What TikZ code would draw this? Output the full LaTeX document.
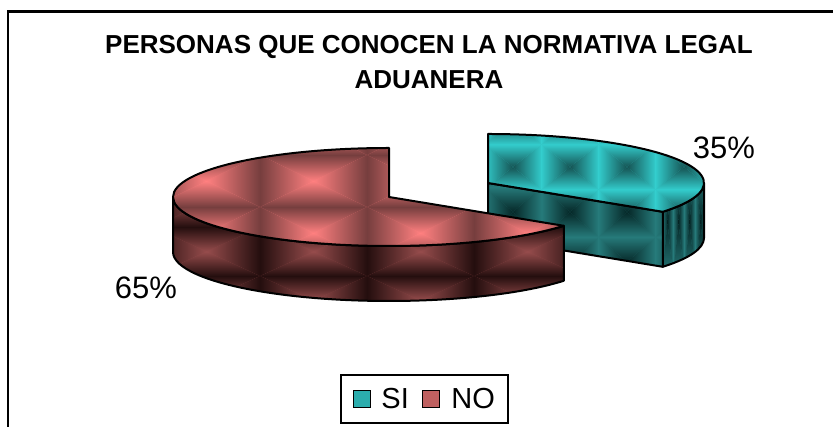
\documentclass[tikz,border=0pt]{standalone}
\usepackage{fontspec}
\setmainfont{Liberation Sans}
\usetikzlibrary{calc,positioning}

\definecolor{noLight}{RGB}{255,128,128}
\definecolor{noDark}{RGB}{118,62,62}
\definecolor{noSideLight}{RGB}{150,76,76}
\definecolor{noSideDark}{RGB}{36,14,14}
\definecolor{siLight}{RGB}{51,204,204}
\definecolor{siDark}{RGB}{22,84,84}
\definecolor{siSideLight}{RGB}{38,122,122}
\definecolor{siSideDark}{RGB}{6,40,40}

% one bevelled tile: rim in #5, centre in #6
\newcommand{\pillow}[6]{%
  \coordinate (pc) at ({#1+#3/2},{#2+#4/2});
  \shade[left color=#5,right color=#6] (#1,#2) -- ++(0,#4) -- (pc) -- cycle;
  \shade[left color=#6,right color=#5] ({#1+#3},#2) -- ++(0,#4) -- (pc) -- cycle;
  \shade[top color=#5,bottom color=#6] (#1,{#2+#4}) -- ++(#3,0) -- (pc) -- cycle;
  \shade[top color=#6,bottom color=#5] (#1,#2) -- ++(#3,0) -- (pc) -- cycle;
}
% grid of tiles: x0, y0, w, h, cols, rows, rim, centre
\newcommand{\tiletexture}[8]{%
  \foreach \i in {1,...,#5}{%
    \foreach \j in {1,...,#6}{%
      \pgfmathsetmacro{\tilex}{#1+(\i-1)*#3}%
      \pgfmathsetmacro{\tiley}{#2+(\j-1)*#4}%
      \pillow{\tilex}{\tiley}{#3}{#4}{#7}{#8}%
    }%
  }%
}

\begin{document}
\begin{tikzpicture}[
    x=1pt, y=1pt,
    % general settings
    font=\fontsize{31}{34}\selectfont,
    pie/.style={x radius=216, y radius=49},
    % faces of the slices
    face/.style={draw=black, line width=2pt, line join=round},
    % legend
    legendbox/.style={rectangle, draw=black, line width=2pt, minimum width=167pt, minimum height=48pt, inner sep=0pt},
    keybox/.style={rectangle, draw=black, line width=1.5pt, minimum size=17pt, inner sep=0pt},
    keytext/.style={inner sep=0pt, font=\fontsize{29}{32}\selectfont},
    pct/.style={inner sep=0pt}
  ]

  \useasboundingbox (0,0) rectangle (833,427);
  \clip (0,0) rectangle (833,427);

  % chart area
  \draw[line width=2.2pt] (8,-30) rectangle (880,415.5);

  \node (title) [align=center, font=\fontsize{26}{35}\selectfont\bfseries] at (429,364.5)
    {PERSONAS QUE CONOCEN LA NORMATIVA LEGAL\\ADUANERA};

  \coordinate (no) at (389,230);
  \coordinate (si) at (488,244);

  % SI slice, pulled out
  \draw[face, path picture={
      \fill[siSideLight] (path picture bounding box.south west) rectangle (path picture bounding box.north east);
      \tiletexture{662}{150}{11}{110}{4}{1}{siSideLight}{siSideDark}}]
    ($(si)+(-36:216 and 49)$) arc[pie, start angle=-36, end angle=0]
    -- ++(0,-55) arc[pie, start angle=0, end angle=-36] -- cycle;

  \draw[face, path picture={
      \fill[siSideLight] (path picture bounding box.south west) rectangle (path picture bounding box.north east);
      \tiletexture{484.5}{140}{57}{50}{4}{3}{siSideLight}{siSideDark}}]
    (si) -- ($(si)+(-36:216 and 49)$) -- ++(0,-55) -- ($(si)+(0,-55)$) -- cycle;

  \draw[face, path picture={
      \fill[siLight] (path picture bounding box.south west) rectangle (path picture bounding box.north east);
      \tiletexture{484.5}{192.5}{57}{45}{4}{3}{siLight}{siDark}}]
    (si) -- ($(si)+(-36:216 and 49)$) arc[pie, start angle=-36, end angle=90] -- cycle;

  % NO slice
  \draw[face, path picture={
      \fill[noSideLight] (path picture bounding box.south west) rectangle (path picture bounding box.north east);
      \tiletexture{153}{102}{107}{49}{4}{3}{noSideDark}{noSideLight}}]
    ($(no)+(180:216 and 49)$) arc[pie, start angle=180, end angle=324]
    -- ++(0,-55) arc[pie, start angle=324, end angle=180] -- cycle;

  \draw[face, path picture={
      \fill[noLight] (path picture bounding box.south west) rectangle (path picture bounding box.north east);
      \tiletexture{153}{168}{107}{52}{4}{3}{noDark}{noLight}}]
    (no) -- ($(no)+(90:216 and 49)$) arc[pie, start angle=90, end angle=324] -- cycle;

  \node (siPct) [pct] at (724,279) {35\%};
  \node (noPct) [pct] at (146,139) {65\%};

  % legend
  \node (legend) [legendbox] at (424.5,28) {};
  \node (siKey) [keybox, fill=siLight!85!black] at (362,28) {};
  \node (siText) [keytext, right=10pt of siKey] {SI};
  \node (noKey) [keybox, fill=noLight!75!black] at (431,28) {};
  \node (noText) [keytext, right=11pt of noKey] {NO};
\end{tikzpicture}
\end{document}
